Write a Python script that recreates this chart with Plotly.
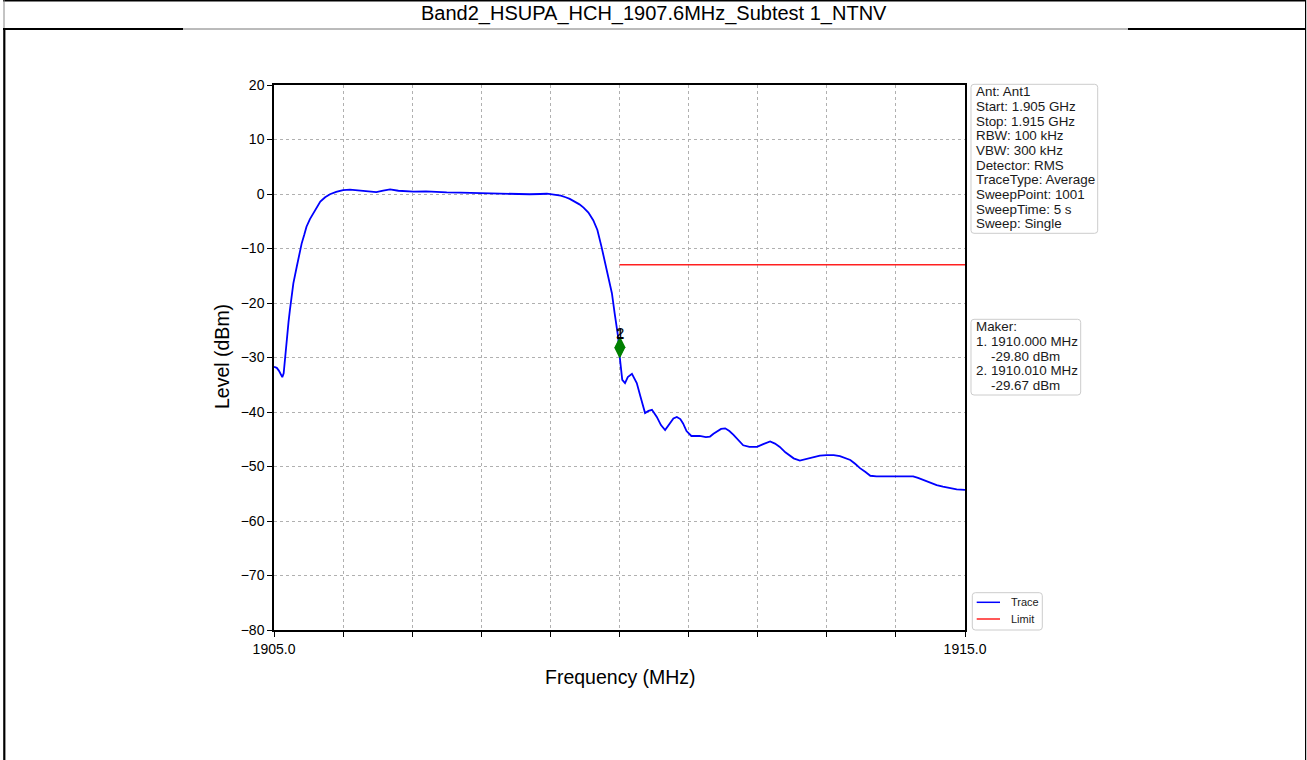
import plotly.graph_objects as go

# ---------------- data ----------------
freq_mhz = [1905.00, 1905.04, 1905.07, 1905.10, 1905.12, 1905.14, 1905.16, 1905.18, 1905.21, 1905.23,
            1905.26, 1905.28, 1905.33, 1905.36, 1905.40, 1905.44, 1905.47, 1905.52, 1905.57, 1905.62,
            1905.67, 1905.74, 1905.81, 1905.90, 1906.00, 1906.10, 1906.20, 1906.29, 1906.40, 1906.48,
            1906.58, 1906.68, 1906.80, 1906.90, 1907.02, 1907.20, 1907.35, 1907.50, 1907.70, 1907.85,
            1907.98, 1908.20, 1908.46, 1908.70, 1908.85, 1908.95, 1909.05, 1909.15, 1909.22, 1909.28,
            1909.35, 1909.42, 1909.48, 1909.55, 1909.62, 1909.68, 1909.74, 1909.78, 1909.81, 1909.85,
            1909.89, 1909.93, 1909.96, 1909.98, 1910.00, 1910.02, 1910.04, 1910.08, 1910.12, 1910.18,
            1910.22, 1910.25, 1910.30, 1910.37, 1910.42, 1910.47, 1910.54, 1910.60, 1910.66, 1910.72,
            1910.78, 1910.83, 1910.88, 1910.92, 1910.97, 1911.04, 1911.16, 1911.25, 1911.31, 1911.36,
            1911.41, 1911.47, 1911.53, 1911.59, 1911.65, 1911.72, 1911.79, 1911.88, 1911.99, 1912.08,
            1912.18, 1912.25, 1912.32, 1912.40, 1912.52, 1912.61, 1912.70, 1912.80, 1912.90, 1913.00,
            1913.10, 1913.19, 1913.27, 1913.34, 1913.41, 1913.48, 1913.56, 1913.63, 1913.72, 1913.82,
            1913.94, 1914.06, 1914.15, 1914.25, 1914.32, 1914.40, 1914.50, 1914.59, 1914.68, 1914.78,
            1914.88, 1915.00]
level_dbm = [-31.7, -31.9, -32.4, -33.3, -33.6, -32.9, -30.0, -26.8, -23.5, -21.3,
             -18.2, -16.4, -13.3, -11.3, -9.1, -7.4, -6.0, -4.6, -3.5, -2.4,
             -1.4, -0.6, -0.05, 0.4, 0.7, 0.8, 0.7, 0.55, 0.45, 0.35,
             0.6, 0.85, 0.6, 0.5, 0.45, 0.5, 0.35, 0.3, 0.25, 0.2,
             0.12, 0.05, 0.0, -0.05, 0.0, 0.05, -0.1, -0.3, -0.6, -0.9,
             -1.4, -1.9, -2.5, -3.4, -4.8, -6.6, -9.7, -11.9, -13.9, -16.2,
             -18.2, -21.9, -24.3, -26.2, -29.5, -32.0, -34.1, -34.7, -33.6, -33.0,
             -34.0, -34.7, -37.0, -40.2, -39.8, -39.6, -40.9, -42.4, -43.3, -42.3,
             -41.2, -40.9, -41.3, -42.1, -43.5, -44.4, -44.4, -44.6, -44.5, -44.0,
             -43.6, -43.1, -43.0, -43.5, -44.2, -45.2, -46.1, -46.4, -46.4, -45.9,
             -45.4, -45.8, -46.4, -47.4, -48.5, -48.9, -48.6, -48.3, -48.0, -47.9,
             -47.9, -48.1, -48.4, -48.8, -49.5, -50.3, -51.0, -51.7, -51.8, -51.8,
             -51.8, -51.8, -51.7, -51.8, -52.1, -52.5, -53.0, -53.4, -53.7, -54.0,
             -54.2, -54.3]

limit_freq = [1910.0, 1915.0]
limit_level = [-13.0, -13.0]

marker_freq = [1910.000, 1910.010]
marker_level = [-28.2, -28.1]
marker_labels = ["1", "2"]

x_tick_vals = [1905, 1906, 1907, 1908, 1909, 1910, 1911, 1912, 1913, 1914, 1915]
x_tick_text = ["1905.0", "", "", "", "", "", "", "", "", "", "1915.0"]
y_tick_vals = [-80, -70, -60, -50, -40, -30, -20, -10, 0, 10, 20]

title_text = "Band2_HSUPA_HCH_1907.6MHz_Subtest 1_NTNV"
info_lines = ["Ant: Ant1", "Start: 1.905 GHz", "Stop: 1.915 GHz", "RBW: 100 kHz", "VBW: 300 kHz",
              "Detector: RMS", "TraceType: Average", "SweepPoint: 1001", "SweepTime: 5 s", "Sweep: Single"]
maker_lines = ["Maker:", "1. 1910.000 MHz", "    -29.80 dBm", "2. 1910.010 MHz", "    -29.67 dBm"]
legend_names = ["Trace", "Limit"]
legend_colors = ["#0000ff", "#ff2020"]

# ---------------- layout helpers ----------------
W, H = 1307, 760
L, R, T, B = 274, 965, 85, 630
FONT = "Liberation Sans, Arial, sans-serif"


def X(px):
    return (px - L) / (R - L)


def Y(py):
    return (B - py) / (B - T)


def rounded_path(l, t, r, b, rad=3):
    pts = [("M", [(l + rad, t)]), ("L", [(r - rad, t)]), ("Q", [(r, t), (r, t + rad)]),
           ("L", [(r, b - rad)]), ("Q", [(r, b), (r - rad, b)]), ("L", [(l + rad, b)]),
           ("Q", [(l, b), (l, b - rad)]), ("L", [(l, t + rad)]), ("Q", [(l, t), (l + rad, t)])]
    s = ""
    for cmd, ps in pts:
        s += cmd + " " + " ".join(f"{X(a):.5f},{Y(c):.5f}" for a, c in ps) + " "
    return s + "Z"


fig = go.Figure()

fig.add_trace(go.Scatter(x=freq_mhz, y=level_dbm, mode="lines", name=legend_names[0],
                         showlegend=False, line=dict(color=legend_colors[0], width=1.8)))
fig.add_trace(go.Scatter(x=limit_freq, y=limit_level, mode="lines", name=legend_names[1],
                         showlegend=False, line=dict(color=legend_colors[1], width=1.5)))
fig.add_trace(go.Scatter(x=marker_freq, y=marker_level, mode="markers", showlegend=False,
                         name="Marker",
                         marker=dict(symbol="diamond-tall", size=15, color="#008000",
                                     line=dict(width=0))))

annotations = []
for f, lv, lab in zip(marker_freq, marker_level, marker_labels):
    annotations.append(dict(x=f, y=lv, xref="x", yref="y", text=lab, showarrow=False,
                            yshift=14.5, font=dict(family=FONT, size=15, color="black")))

# title
annotations.append(dict(x=X(654), y=Y(14), xref="paper", yref="paper", text=title_text,
                        showarrow=False, xanchor="center", yanchor="middle",
                        font=dict(family=FONT, size=20, color="black")))
# axis titles
annotations.append(dict(x=X(620), y=Y(677), xref="paper", yref="paper", text="Frequency (MHz)",
                        showarrow=False, xanchor="center", yanchor="middle",
                        font=dict(family=FONT, size=19.5, color="black")))
annotations.append(dict(x=X(222), y=Y(357), xref="paper", yref="paper", text="Level (dBm)",
                        showarrow=False, xanchor="center", yanchor="middle", textangle=-90,
                        font=dict(family=FONT, size=19.5, color="black")))
# info box lines
for i, line in enumerate(info_lines):
    annotations.append(dict(x=X(974), y=Y(91.7 + i * 14.7), xref="paper", yref="paper",
                            text=line, showarrow=False, xanchor="left", yanchor="middle",
                            font=dict(family=FONT, size=13.4, color="#1a1a1a")))
# maker box lines
for i, line in enumerate(maker_lines):
    ind = line.startswith(" ")
    annotations.append(dict(x=X(989 if ind else 974), y=Y(326.7 + i * 14.7), xref="paper",
                            yref="paper", text=line.strip(), showarrow=False, xanchor="left",
                            yanchor="middle", font=dict(family=FONT, size=13.4, color="#1a1a1a")))

shapes = []
# info boxes
shapes.append(dict(type="path", xref="paper", yref="paper", path=rounded_path(971, 84.3, 1097.7, 233.3),
                   line=dict(color="#cccccc", width=1), fillcolor="rgba(255,255,255,0.8)", layer="below"))
shapes.append(dict(type="path", xref="paper", yref="paper", path=rounded_path(971, 319.3, 1080.7, 395),
                   line=dict(color="#cccccc", width=1), fillcolor="rgba(255,255,255,0.8)", layer="below"))
# legend box
shapes.append(dict(type="path", xref="paper", yref="paper", path=rounded_path(972.3, 592.7, 1042.3, 630),
                   line=dict(color="#cccccc", width=1), fillcolor="white", layer="below"))
for i, (nm, col) in enumerate(zip(legend_names, legend_colors)):
    yy = 602.3 + i * 16.7
    shapes.append(dict(type="line", xref="paper", yref="paper", x0=X(976.7), x1=X(1000),
                       y0=Y(yy), y1=Y(yy), line=dict(color=col, width=1.5)))
    annotations.append(dict(x=X(1008.5), y=Y(yy), xref="paper", yref="paper", text=nm,
                            showarrow=False, xanchor="left", yanchor="middle",
                            font=dict(family=FONT, size=11, color="#1a1a1a")))


def hline(x0, x1, y, color, width):
    shapes.append(dict(type="line", xref="paper", yref="paper", x0=X(x0), x1=X(x1), y0=Y(y), y1=Y(y),
                       line=dict(color=color, width=width)))


def vline(x, y0, y1, color, width):
    shapes.append(dict(type="line", xref="paper", yref="paper", x0=X(x), x1=X(x), y0=Y(y0), y1=Y(y1),
                       line=dict(color=color, width=width)))


# page frame
hline(3, 1306, 0.8, "black", 1.5)
vline(4, 0, 29, "#888888", 1)
vline(4.3, 29, 760, "black", 2.2)
vline(1305.6, 0, 760, "black", 1.2)
hline(3, 183, 29, "black", 2.2)
hline(183, 1128, 29, "#777777", 1)
hline(1128, 1306, 29, "black", 2.2)

fig.update_layout(
    width=W, height=H, autosize=False,
    margin=dict(l=L, r=W - R, t=T, b=H - B, pad=0),
    paper_bgcolor="white", plot_bgcolor="white",
    font=dict(family=FONT, size=14, color="black"),
    showlegend=False,
    annotations=annotations,
    shapes=shapes,
)

fig.update_xaxes(range=[1905, 1915], tickmode="array", tickvals=x_tick_vals, ticktext=x_tick_text,
                 showline=True, linecolor="black", linewidth=1.5, mirror=True,
                 ticks="outside", ticklen=5, tickwidth=1.2, tickcolor="black",
                 showgrid=True, gridcolor="#b0b0b0", gridwidth=0.8, griddash="3px,3px",
                 zeroline=False, tickfont=dict(family=FONT, size=14, color="black"))
fig.update_yaxes(range=[-80, 20], tickmode="array", tickvals=y_tick_vals,
                 showline=True, linecolor="black", linewidth=1.5, mirror=True,
                 ticks="outside", ticklen=5, tickwidth=1.2, tickcolor="black",
                 showgrid=True, gridcolor="#b0b0b0", gridwidth=0.8, griddash="3px,3px",
                 zeroline=False, tickfont=dict(family=FONT, size=14, color="black"))

fig.write_html("out.html", config={"displayModeBar": False},
               post_script="document.body.style.margin='0';document.body.style.overflow='hidden';")
